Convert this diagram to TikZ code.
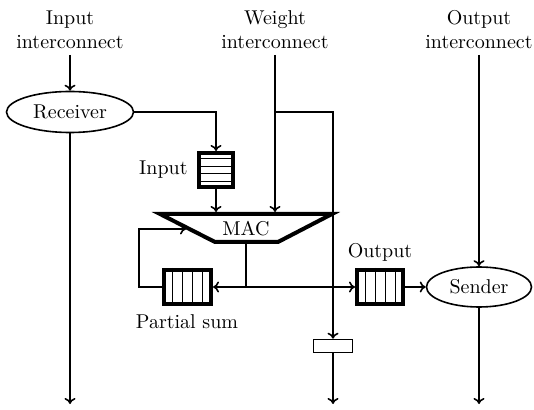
\documentclass[tikz,border=0pt]{standalone}
\usetikzlibrary{shapes.geometric,calc,arrows.meta}
\begin{document}
\begin{tikzpicture}[x=0.5pt,y=-0.5pt,
  >={Computer Modern Rightarrow[length=3pt,width=5.5pt]},
  conn/.style={thick,->},
  wire/.style={thick},
  ell/.style={draw,thick,ellipse,inner sep=0pt},
  lbl/.style={align=center,inner sep=0pt},
  buf/.style={draw,line width=2pt,inner sep=0pt},
  cell/.style={line width=0.5pt}]
\useasboundingbox (0,0) rectangle (534,410);

% labels
\node[lbl] (inlbl) at (70,30) {Input\\interconnect};
\node[lbl] (wlbl) at (275,30) {Weight\\interconnect};
\node[lbl] (olbl) at (479,30) {Output\\interconnect};

% receiver / sender
\node[ell,minimum width=63.5pt,minimum height=20.5pt] (recv) at (70,112) {Receiver};
\node[ell,minimum width=52.5pt,minimum height=20pt] (send) at (479,287) {Sender};

% buffers
\node[buf,minimum width=17pt,minimum height=17pt] (inbuf) at (216,170) {};
\foreach \i in {1,...,4}
  \draw[cell] ($(inbuf.north west)!\i/5!(inbuf.south west)$) -- ($(inbuf.north east)!\i/5!(inbuf.south east)$);
\node[lbl,anchor=east] (inbuflbl) at (188,170) {Input};

\node[buf,minimum width=23.5pt,minimum height=17pt] (psum) at (187.5,287) {};
\foreach \i in {1,...,4}
  \draw[cell] ($(psum.north west)!\i/5!(psum.north east)$) -- ($(psum.south west)!\i/5!(psum.south east)$);
\node[lbl] (psumlbl) at (187,322) {Partial sum};

\node[buf,minimum width=23pt,minimum height=17pt] (obuf) at (380,287) {};
\foreach \i in {1,...,4}
  \draw[cell] ($(obuf.north west)!\i/5!(obuf.north east)$) -- ($(obuf.south west)!\i/5!(obuf.south east)$);
\node[lbl] (obuflbl) at (380,252) {Output};

% small register
\node[draw,thick,minimum width=19.5pt,minimum height=6.5pt,inner sep=0pt] (reg) at (333,346) {};

% MAC
\coordinate (mactl) at (160,214);
\coordinate (mactr) at (332,214);
\coordinate (macbr) at (278,242);
\coordinate (macbl) at (215,242);
\draw[line width=2pt,line join=miter] (mactl) -- (mactr) -- (macbr) -- (macbl) -- cycle;
\node[inner sep=0pt] (mac) at (246,229) {MAC};

% coordinates
\coordinate (inTop) at (70,55);
\coordinate (inBot) at (70,404);
\coordinate (wTop) at (275,55);
\coordinate (wBr) at (275,112);
\coordinate (oTop) at (479,55);
\coordinate (oBot) at (479,404);
\coordinate (regBot) at (333,404);
\coordinate (macin1) at (216,212);
\coordinate (macin2) at (275,212);
\coordinate (macout) at (246,243);
\coordinate (mj) at (246,287);
\coordinate (fbl) at (139,287);
\coordinate (macfb) at (186,229);

% connectors
\draw[conn] (inTop) -- (recv);
\draw[conn] (recv) -- (inBot);
\draw[conn] (recv.east) -| (inbuf.north);
\draw[conn] (inbuf.south) -- (macin1);
\draw[conn] (wTop) -- (macin2);
\draw[conn] (wBr) -| (reg.north);
\draw[conn] (reg.south) -- (regBot);
\draw[conn] (macout) |- (psum.east);
\draw[conn] (mj) -- (obuf.west);
\draw[conn] (psum.west) -- (fbl) |- (macfb);
\draw[conn] (obuf.east) -- (send.west);
\draw[conn] (oTop) -- (send);
\draw[conn] (send) -- (oBot);
\end{tikzpicture}
\end{document}
